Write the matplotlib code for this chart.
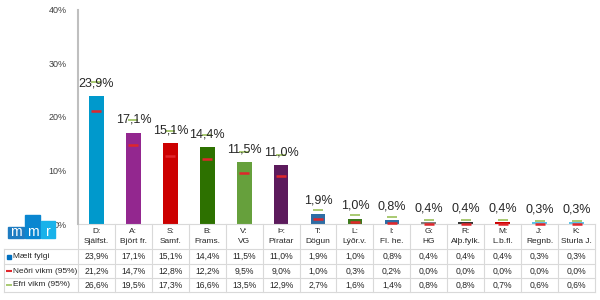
import numpy as np
import matplotlib.pyplot as plt
from matplotlib.patches import Rectangle

plt.rcParams["font.family"] = ["Liberation Sans", "DejaVu Sans"]

# data
flokkar = ["D:\nSjálfst.", "A:\nBjört fr.", "S:\nSamf.", "B:\nFrams.", "V:\nVG",
           "Þ:\nPíratar", "T:\nDögun", "L:\nLýðr.v.", "I:\nFl. he.", "G:\nHG",
           "R:\nAlþ.fylk.", "M:\nL.b.fl.", "J:\nRegnb.", "K:\nSturla J."]
fylgi = [23.9, 17.1, 15.1, 14.4, 11.5, 11.0, 1.9, 1.0, 0.8, 0.4, 0.4, 0.4, 0.3, 0.3]
nedri = [21.2, 14.7, 12.8, 12.2, 9.5, 9.0, 1.0, 0.3, 0.2, 0.0, 0.0, 0.0, 0.0, 0.0]
efri = [26.6, 19.5, 17.3, 16.6, 13.5, 12.9, 2.7, 1.6, 1.4, 0.8, 0.8, 0.7, 0.6, 0.6]
litir = ["#0099CC", "#93278F", "#CC0000", "#2D7100", "#66A03C", "#5C1A5C", "#2E6DA4",
         "#3D7A1C", "#2E6DA4", "#7F7F7F", "#333333", "#CC0000", "#5BC3EA", "#5BC3EA"]
yticks = [0, 10, 20, 30, 40]
radir = ["Mælt fylgi", "Neðri vikm (95%)", "Efri vikm (95%)"]


def pct(v):
    return f"{v:.1f}%".replace(".", ",")


fig = plt.figure(figsize=(6, 3), dpi=100)
ax = fig.add_axes([78/600, 76/300, 517/600, 214/300])
x = np.arange(len(fylgi))

ax.bar(x, fylgi, width=0.4, color=litir, zorder=2)
ax.plot(x, nedri, ls="none", marker="_", ms=6.5, mew=1.8, color="#E0262B", zorder=3, clip_on=False)
ax.plot(x, efri, ls="none", marker="_", ms=6.5, mew=1.2, color="#9BC15A", zorder=3)
for xi, v in zip(x, fylgi):
    ax.annotate(pct(v), (xi, v), xytext=(0, 5), textcoords="offset points",
                ha="center", va="bottom", fontsize=9, color="#262626")

ax.set_xlim(-0.5, 13.5)
ax.set_ylim(0, 40)
ax.set_yticks(yticks)
ax.set_yticklabels([f"{t}%" for t in yticks])
ax.tick_params(axis="y", length=0, pad=8, labelsize=6.5, labelcolor="#404040")
ax.set_xticks([])
for s in ["top", "right", "bottom"]:
    ax.spines[s].set_visible(False)
ax.spines["left"].set_color("#BFBFBF")
ax.spines["left"].set_linewidth(1.5)

# table below the chart
tr = ax.get_xaxis_transform()
def yf(py):
    return (224 - py) / 214

grid = "#D9D9D9"
xl, xr = -2.5, 13.5
row_lines = [249, 264, 278, 292]
for py in row_lines:
    ax.plot([xl, xr], [yf(py)] * 2, color=grid, lw=0.8, transform=tr, clip_on=False)
ax.plot([-0.5, xr], [yf(224)] * 2, color=grid, lw=0.8, transform=tr, clip_on=False)
for b in np.arange(-0.5, 14, 1.0):
    ax.plot([b, b], [yf(224), yf(292)], color=grid, lw=0.8, transform=tr, clip_on=False)
ax.plot([xl, xl], [yf(249), yf(292)], color=grid, lw=0.8, transform=tr, clip_on=False)

for xi, lab in zip(x, flokkar):
    ax.text(xi, yf(236.5), lab, transform=tr, ha="center", va="center",
            fontsize=6, color="#262626", linespacing=1.6)

rows = [fylgi, nedri, efri]
row_y = [256.5, 271, 285]
for vals, py in zip(rows, row_y):
    for xi, v in zip(x, vals):
        ax.text(xi, yf(py), pct(v), transform=tr, ha="center", va="center",
                fontsize=6.2, color="#262626")

# row labels with legend keys
kx = -2.38
ax.plot([kx], [yf(256.5)], marker="s", ms=3.5, color="#0070C0", transform=tr, clip_on=False)
ax.plot([kx], [yf(271)], marker="_", ms=5, mew=1.5, color="#E0262B", transform=tr, clip_on=False)
ax.plot([kx], [yf(285)], marker="_", ms=5, mew=1.2, color="#9BC15A", transform=tr, clip_on=False)
for lab, py in zip(radir, row_y):
    ax.text(kx + 0.13, yf(py), lab, transform=tr, ha="left", va="center",
            fontsize=6, color="#262626")

# mmr logo
lax = fig.add_axes([0, 0, 1, 1], facecolor="none")
lax.set_xlim(0, 600)
lax.set_ylim(300, 0)
lax.axis("off")
lax.add_patch(Rectangle((8, 227), 16, 11, color="#1E7CC2"))
lax.add_patch(Rectangle((25, 215), 15, 23, color="#0A86D0"))
lax.add_patch(Rectangle((41, 221), 14, 17, color="#18B2EA"))
for lx, ch in zip([16, 32.5, 48], "mmr"):
    lax.text(lx, 238.5, ch, color="white", fontsize=10, ha="center", va="bottom")

fig.savefig("out.png", dpi=100)
